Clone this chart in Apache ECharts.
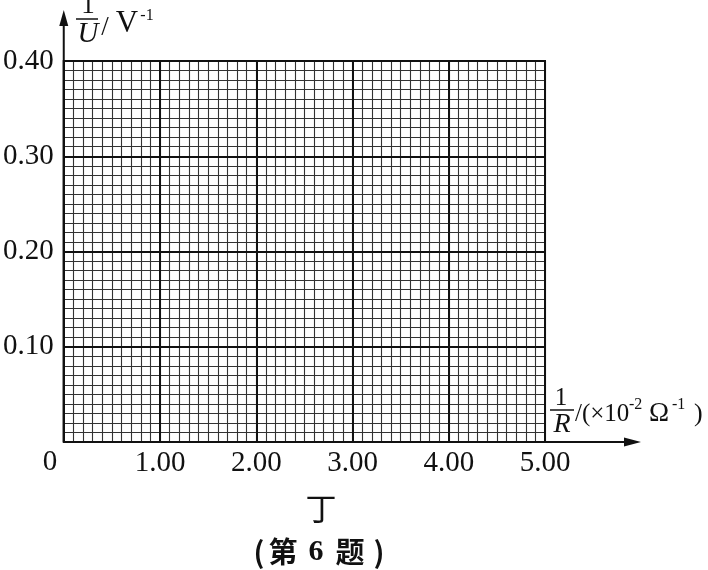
<!DOCTYPE html>
<html><head><meta charset="utf-8">
<script src="https://cdn.jsdelivr.net/npm/echarts@6/dist/echarts.min.js"></script>
<style>html,body{margin:0;padding:0;background:#fff}#c{width:708px;height:570px}</style>
</head><body><div id="c"></div>
<script>
// ---- data (blank graph paper: axes and tick labels only) ----
const xRange = [0, 5];
const yRange = [0, 0.4];
const xMajorStep = 1;
const yMajorStep = 0.1;
const xMinorStep = 0.1;
const yMinorStep = 0.01;
const xMajorTicks = [0, 1, 2, 3, 4, 5];
const xTickLabels = ['', '1.00', '2.00', '3.00', '4.00', '5.00'];
const yMajorTicks = [0, 0.1, 0.2, 0.3, 0.4];
const yTickLabels = ['', '0.10', '0.20', '0.30', '0.40'];
const originLabel = '0';
const measuredPoints = []; // no points plotted in the reference
const subCaption = '丁';
const captionParts = ['(', '第', '6', '题', ')'];

function labelFor(ticks, labels) {
  return function (v) {
    for (let i = 0; i < ticks.length; i++) if (Math.abs(ticks[i] - v) < 1e-6) return labels[i];
    return '';
  };
}

const serif = '"Liberation Serif", "Times New Roman", serif';
const cjk = '"Noto Sans CJK SC", sans-serif';
const chart = echarts.init(document.getElementById('c'), null, { renderer: 'canvas' });

chart.setOption({
  animation: false,
  backgroundColor: '#fff',
  grid: { left: 63, right: 163, top: 61, bottom: 128, show: true, borderColor: '#111', borderWidth: 2, backgroundColor: 'transparent' },
  xAxis: [
    { type: 'value', min: xRange[0], max: xRange[1], interval: xMinorStep, position: 'bottom', z: 0,
      axisLine: { show: false }, axisTick: { show: false }, axisLabel: { show: false },
      splitLine: { show: true, lineStyle: { color: '#333', width: 1.1 } } },
    { type: 'value', min: xRange[0], max: xRange[1], interval: xMajorStep, position: 'bottom', z: 2,
      axisLine: { show: false }, axisTick: { show: false },
      axisLabel: { show: true, margin: 7, color: '#111', fontFamily: serif, fontSize: 29, formatter: labelFor(xMajorTicks, xTickLabels) },
      splitLine: { show: true, lineStyle: { color: '#111', width: 2 } } }
  ],
  yAxis: [
    { type: 'value', min: yRange[0], max: yRange[1], interval: yMinorStep, position: 'left', z: 0,
      axisLine: { show: false }, axisTick: { show: false }, axisLabel: { show: false },
      splitLine: { show: true, lineStyle: { color: '#333', width: 1.1 } } },
    { type: 'value', min: yRange[0], max: yRange[1], interval: yMajorStep, position: 'left', z: 2,
      axisLine: { show: false }, axisTick: { show: false },
      axisLabel: { show: true, margin: 10, color: '#111', fontFamily: serif, fontSize: 29, formatter: labelFor(yMajorTicks, yTickLabels) },
      splitLine: { show: true, lineStyle: { color: '#111', width: 2 } } }
  ],
  series: [{ type: 'scatter', xAxisIndex: 1, yAxisIndex: 1, data: measuredPoints, symbolSize: 6, itemStyle: { color: '#111' } }]
});

const o = chart.convertToPixel({ xAxisIndex: 1, yAxisIndex: 1 }, [xRange[0], yRange[0]]);
const xe = chart.convertToPixel({ xAxisIndex: 1, yAxisIndex: 1 }, [xRange[1], yRange[0]]);
const ye = chart.convertToPixel({ xAxisIndex: 1, yAxisIndex: 1 }, [xRange[0], yRange[1]]);
const black = '#111';
const xTip = xe[0] + 96, yTip = ye[1] - 51;

function t(text, x, y, size, opts) {
  opts = opts || {};
  return { type: 'text', z: 10, x: x, y: y,
    style: { text: text, fill: black, font: (opts.style || 'normal') + ' ' + (opts.weight || 'normal') + ' ' + size + 'px ' + (opts.family || serif),
      textAlign: opts.align || 'center', textVerticalAlign: 'middle' } };
}

const capX = [259, 283, 316, 350, 379];
const capGraphics = captionParts.map(function (p, i) {
  return t(p, capX[i], 552, i === 2 ? 30 : 29, { weight: 'bold', family: i === 2 ? serif : cjk });
});

chart.setOption({
  graphic: [
    // axes with arrows
    { type: 'line', z: 9, shape: { x1: o[0], y1: o[1], x2: o[0], y2: yTip + 10 }, style: { stroke: black, lineWidth: 2 } },
    { type: 'polygon', z: 9, shape: { points: [[o[0], yTip], [o[0] - 4.5, yTip + 16], [o[0] + 4.5, yTip + 16]] }, style: { fill: black } },
    { type: 'line', z: 9, shape: { x1: o[0], y1: o[1], x2: xTip - 10, y2: o[1] }, style: { stroke: black, lineWidth: 2 } },
    { type: 'polygon', z: 9, shape: { points: [[xTip, o[1]], [xTip - 17, o[1] - 4.5], [xTip - 17, o[1] + 4.5]] }, style: { fill: black } },
    // origin
    t(originLabel, 50, 462, 29),
    // y axis name: 1/U / V^-1
    t('1', 88, 6, 27),
    { type: 'line', z: 10, shape: { x1: 76, y1: 19, x2: 98, y2: 19 }, style: { stroke: black, lineWidth: 1.5 } },
    t('U', 88, 34, 29, { style: 'italic' }),
    t('/', 105, 28, 27),
    t('V', 127, 24, 31),
    t('-1', 147, 16, 16),
    // x axis name: 1/R /(×10^-2 Ω^-1)
    t('1', 561, 398, 25),
    { type: 'line', z: 10, shape: { x1: 550, y1: 410, x2: 574, y2: 410 }, style: { stroke: black, lineWidth: 1.5 } },
    t('R', 562, 425, 28, { style: 'italic' }),
    t('/(×10', 575, 414, 25, { align: 'left' }),
    t('-2', 629, 405, 16, { align: 'left' }),
    t('Ω', 649, 414, 27, { align: 'left' }),
    t('-1', 672, 405, 16, { align: 'left' }),
    t(')', 694, 414, 26, { align: 'left' }),
    // captions
    t(subCaption, 321, 508, 31, { family: cjk })
  ].concat(capGraphics)
});
</script>
</body></html>
